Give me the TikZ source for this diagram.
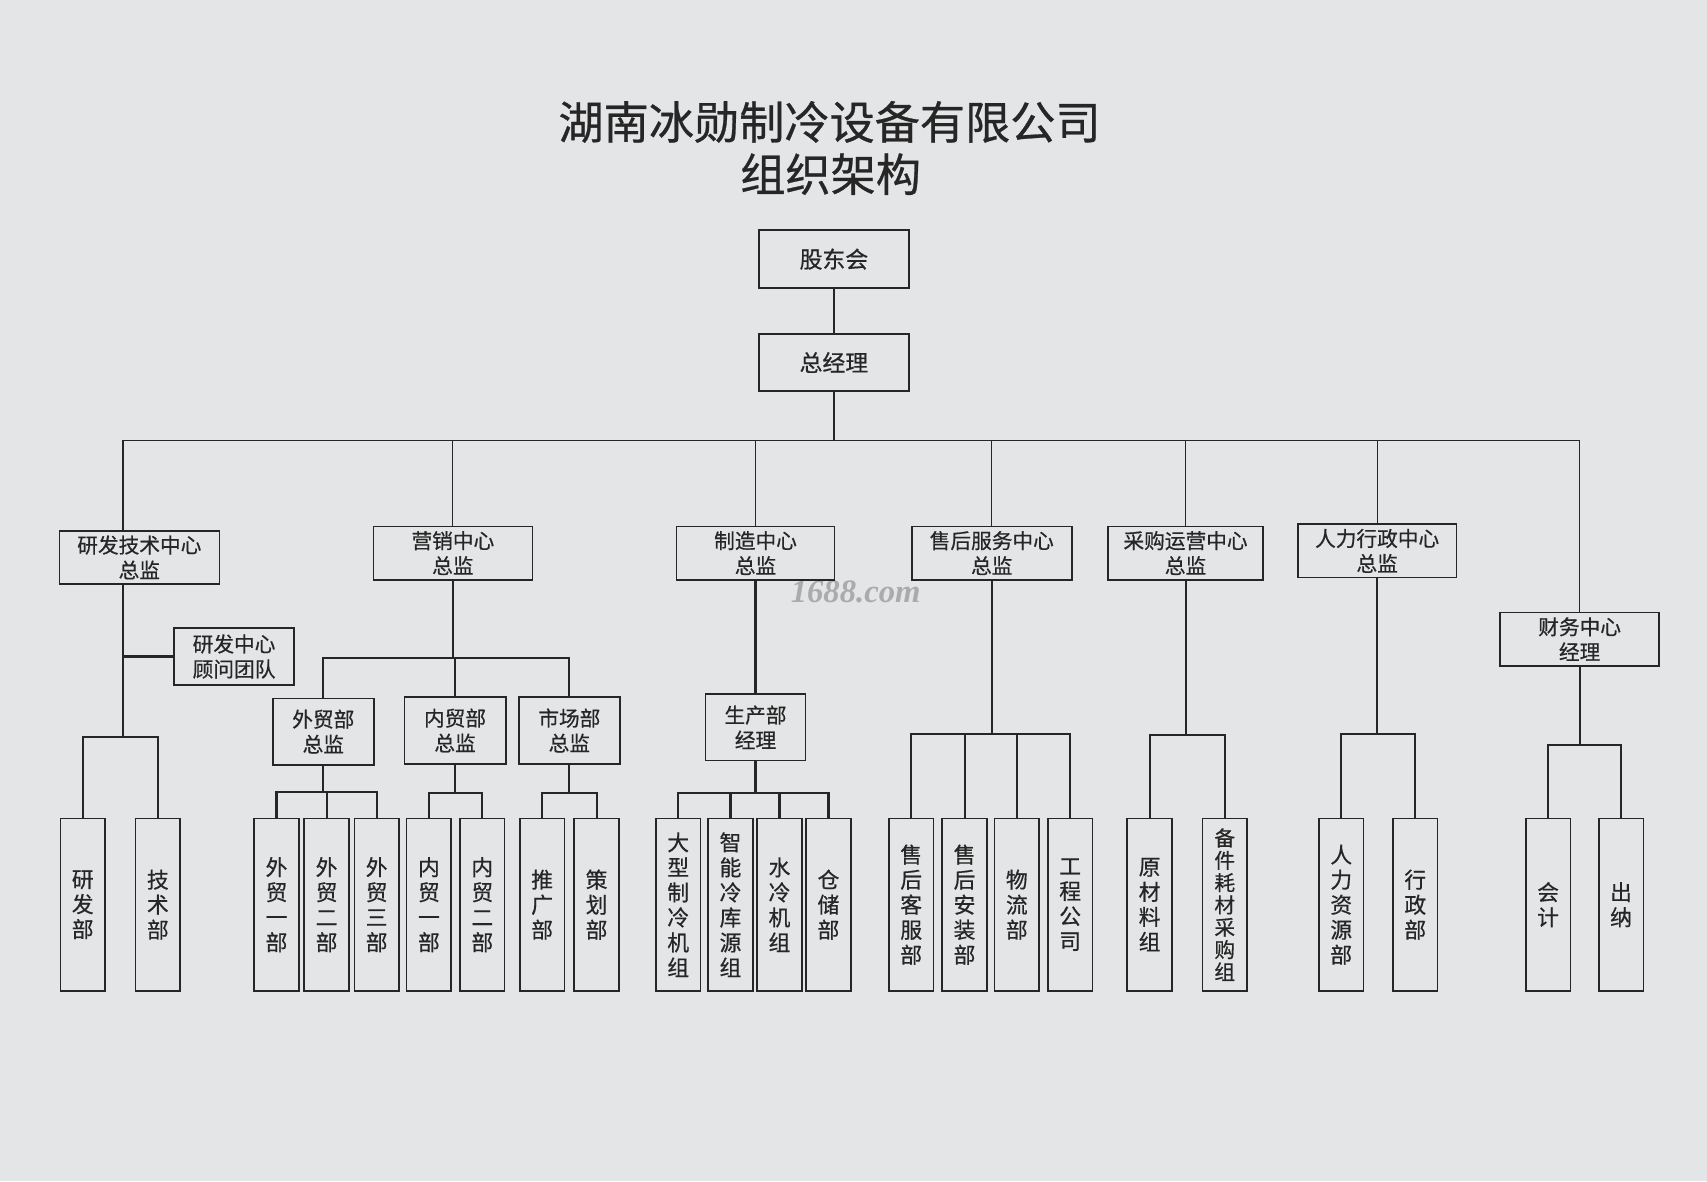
\documentclass[tikz,border=0pt]{standalone}
\usepackage{fontspec}
\setmainfont{Noto Sans CJK SC}[FakeBold=0.6]
\newfontfamily\wmfont{Liberation Serif}
\definecolor{paper}{RGB}{228,229,231}
\definecolor{ink}{RGB}{38,38,38}

\begin{document}
\begin{tikzpicture}[x=1pt, y=-1pt,
  box/.style={draw=ink, line width=1.5pt, inner sep=0pt, align=center, text=ink,
    minimum width=146, minimum height=49, font=\fontsize{19}{23}\selectfont},
  mid/.style={box, minimum width=93, minimum height=61},
  leaf/.style={box, minimum width=41, minimum height=158, font=\fontsize{20}{23}\selectfont},
  link/.style={ink, line width=1.1pt},
  thick link/.style={ink, line width=1.9pt}]
  \fill[paper] (0,0) rectangle (1568,1085);
  \useasboundingbox (0,0) rectangle (1568,1085);
  \node[text=ink, font=\fontsize{41.5}{41.5}\selectfont] (title) at (762,112) {湖南冰勋制冷设备有限公司};
  \node[text=ink, font=\fontsize{41.5}{41.5}\selectfont] (subtitle) at (763,160) {组织架构};
  \node[text=black!33, font=\wmfont\bfseries\itshape\fontsize{30}{30}\selectfont] (logo) at (786,544) {1688.com};

  \node[box, minimum width=138, minimum height=53, font=\fontsize{21}{24}\selectfont] (gd) at (766,238) {股东会};
  \node[box, minimum width=138, minimum height=52, font=\fontsize{21}{24}\selectfont] (gm) at (766,333) {总经理};

  \node[box, minimum width=147] (yf) at (128,512) {研发技术中心\\总监};
  \node[box] (yx) at (416,508) {营销中心\\总监};
  \node[box, minimum width=145] (zz) at (694,508) {制造中心\\总监};
  \node[box, minimum width=147] (sh) at (911,508) {售后服务中心\\总监};
  \node[box, minimum width=142] (cg) at (1089,508) {采购运营中心\\总监};
  \node[box] (rl) at (1265,506) {人力行政中心\\总监};
  \node[box] (cw) at (1451,587) {财务中心\\经理};

  \node[box, minimum width=110, minimum height=52] (gw) at (215,603) {研发中心\\顾问团队};
  \node[mid] (wmz) at (297,672) {外贸部\\总监};
  \node[mid] (nmz) at (418,671) {内贸部\\总监};
  \node[mid] (scz) at (523,671) {市场部\\总监};
  \node[mid, minimum width=92] (scb) at (694,668) {生产部\\经理};

  \node[leaf] (yfb) at (76,831) {研\\发\\部};
  \node[leaf] (jsb) at (145,831) {技\\术\\部};
  \node[leaf] (wm1) at (254,831) {外\\贸\\一\\部};
  \node[leaf] (wm2) at (300,831) {外\\贸\\二\\部};
  \node[leaf] (wm3) at (346,831) {外\\贸\\三\\部};
  \node[leaf] (nm1) at (394,831) {内\\贸\\一\\部};
  \node[leaf] (nm2) at (443,831) {内\\贸\\二\\部};
  \node[leaf] (tgb) at (498,831) {推\\广\\部};
  \node[leaf] (chb) at (548,831) {策\\划\\部};
  \node[leaf] (dx) at (623,831) {大\\型\\制\\冷\\机\\组};
  \node[leaf] (zn) at (671,831) {智\\能\\冷\\库\\源\\组};
  \node[leaf] (sl) at (716,831) {水\\冷\\机\\组};
  \node[leaf] (ccb) at (761,831) {仓\\储\\部};
  \node[leaf] (kf) at (837,831) {售\\后\\客\\服\\部};
  \node[leaf] (az) at (886,831) {售\\后\\安\\装\\部};
  \node[leaf] (wlb) at (934,831) {物\\流\\部};
  \node[leaf] (gc) at (983,831) {工\\程\\公\\司};
  \node[leaf] (ycl) at (1056,831) {原\\材\\料\\组};
  \node[leaf, font=\fontsize{19}{20.5}\selectfont] (bj) at (1125,831) {备\\件\\耗\\材\\采\\购\\组};
  \node[leaf] (rz) at (1232,831) {人\\力\\资\\源\\部};
  \node[leaf] (xzb) at (1300,831) {行\\政\\部};
  \node[leaf] (kj) at (1422,831) {会\\计};
  \node[leaf] (cn) at (1489,831) {出\\纳};

  \draw[link] (gd) -- (gm);
  \draw[link] (gm.south) -- ++(0,45) -| ([xshift=-15pt]yf.north);
  \foreach \n in {yx,zz,sh,cg,rl,cw}
    \draw[link] (gm.south) -- ++(0,45) -| (\n.north);

  \draw[thick link] ([xshift=-15pt]yf.south) |- (gw.west);
  \foreach \n in {yfb,jsb}
    \draw[thick link] ([xshift=-15pt]yf.south) -- ++(0,140) -| (\n.north);
  \foreach \n in {wmz,nmz,scz}
    \draw[thick link] (yx.south) -- ++(0,71) -| (\n.north);
  \foreach \n in {wm1,wm2,wm3}
    \draw[thick link] (wmz.south) -- ++(0,24) -| (\n.north);
  \foreach \n in {nm1,nm2}
    \draw[thick link] (nmz.south) -- ++(0,26) -| (\n.north);
  \foreach \n in {tgb,chb}
    \draw[thick link] (scz.south) -- ++(0,26) -| (\n.north);
  \draw[thick link] (zz) -- (scb);
  \foreach \n in {dx,zn,sl,ccb}
    \draw[thick link] (scb.south) -- ++(0,29) -| (\n.north);
  \foreach \n in {kf,az,wlb,gc}
    \draw[thick link] (sh.south) -- ++(0,141) -| (\n.north);
  \foreach \n in {ycl,bj}
    \draw[thick link] (cg.south) -- ++(0,142) -| (\n.north);
  \foreach \n in {rz,xzb}
    \draw[thick link] (rl.south) -- ++(0,143) -| (\n.north);
  \foreach \n in {kj,cn}
    \draw[thick link] (cw.south) -- ++(0,72) -| (\n.north);
\end{tikzpicture}
\end{document}
